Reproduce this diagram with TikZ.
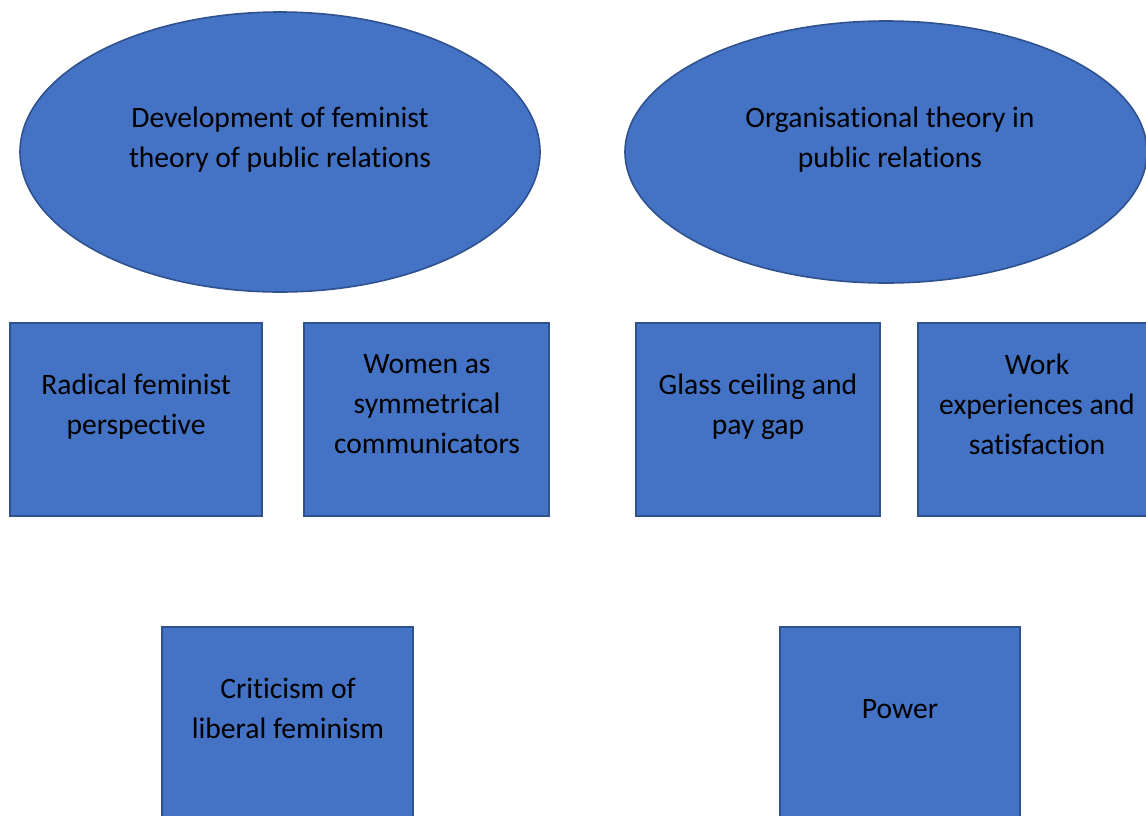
\documentclass[tikz,border=0pt]{standalone}
\usepackage{fontspec}
\setmainfont[Ligatures={NoCommon}]{Carlito}
\usetikzlibrary{shapes.geometric}
\definecolor{topicblue}{HTML}{4472C4}
\definecolor{topicedge}{HTML}{2F528F}
\tikzset{
  topic/.style={ellipse, draw=topicedge, fill=topicblue, line width=1.2pt, inner sep=0pt},
  theme/.style={rectangle, draw=topicedge, fill=topicblue, line width=1.2pt, inner sep=0pt},
  caption/.style={align=center, font=\fontsize{22.2}{30}\selectfont, text=black}
}
\begin{document}
\begin{tikzpicture}[x=0.75pt, y=-0.75pt]
\useasboundingbox (0,0) rectangle (1146,815);
\clip (0,0) rectangle (1146,815);
%ellissi
\node[topic, minimum width=390pt, minimum height=210pt] (feminist) at (280,152) {};
\node[topic, minimum width=391.5pt, minimum height=196.5pt] (organisation) at (886,152) {};
\node[caption] (feministtext) at (280,140) {Development of feminist\\theory of public relations};
\node[caption] (organisationtext) at (890,140) {Organisational theory in\\public relations};
%riquadri prima riga
\node[theme, minimum width=189pt, minimum height=144.75pt] (radical) at (136,419.5) {};
\node[theme, minimum width=183.75pt, minimum height=144.75pt] (women) at (426.5,419.5) {};
\node[theme, minimum width=183pt, minimum height=144.75pt] (glass) at (758,419.5) {};
\node[theme, minimum width=183pt, minimum height=144.75pt] (work) at (1040,419.5) {};
\node[caption] (radicaltext) at (136,407) {Radical feminist\\perspective};
\node[caption] (womentext) at (427,404) {Women as\\symmetrical\\communicators};
\node[caption] (glasstext) at (758,407) {Glass ceiling and\\pay gap};
\node[caption] (worktext) at (1037,404) {Work\\experiences and\\satisfaction};
%riquadri seconda riga
\node[theme, minimum width=188.25pt, minimum height=165pt] (criticism) at (287.5,737) {};
\node[theme, minimum width=180pt, minimum height=165pt] (power) at (900,737) {};
\node[caption] (criticismtext) at (288,708) {Criticism of\\liberal feminism};
\node[caption] (powertext) at (900,709) {Power};
\end{tikzpicture}
\end{document}
